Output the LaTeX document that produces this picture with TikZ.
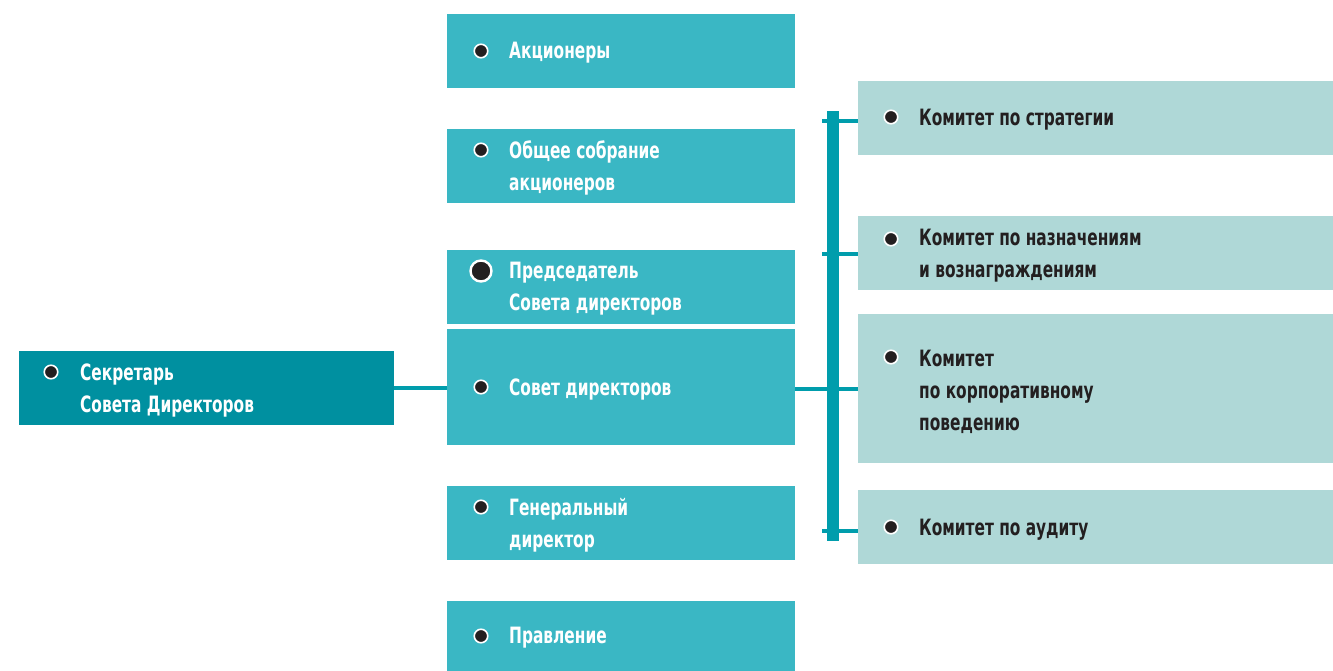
\documentclass[tikz,border=0pt]{standalone}
\usepackage{fontspec}
\newfontfamily\lab{DejaVu Sans Condensed}[FakeStretch=0.76]
\definecolor{midbox}{RGB}{58,183,196}
\definecolor{rightbox}{RGB}{175,216,215}
\definecolor{leftbox}{RGB}{0,144,160}
\definecolor{barcol}{RGB}{0,157,172}
\definecolor{ink}{RGB}{35,31,32}
\begin{document}
\begin{tikzpicture}[x=1pt,y=-1pt,
  box/.style={draw=none,inner sep=0pt,outer sep=0pt,anchor=north west},
  midb/.style={box,fill=midbox,minimum width=348pt},
  rightb/.style={box,fill=rightbox,minimum width=475pt},
  leftb/.style={box,fill=leftbox,minimum width=375pt},
  lbl/.style={anchor=west,inner sep=0pt,align=left,font=\lab\bfseries\fontsize{22.5}{32}\selectfont},
  wlbl/.style={lbl,text=white},
  dlbl/.style={lbl,text=ink},
  dot/.style={circle,fill=ink,draw=white,line width=1.6pt,minimum size=13.5pt,inner sep=0pt},
  bigdot/.style={circle,fill=ink,draw=white,line width=2.4pt,minimum size=21pt,inner sep=0pt},
  conn/.style={draw=barcol,line width=3.8pt}]
\useasboundingbox (0,0) rectangle (1333,671);
% middle column
\node[midb,minimum height=74pt] (akc) at (447,14) {};
\node[midb,minimum height=74pt] (obs) at (447,129) {};
\node[midb,minimum height=74pt] (pred) at (447,250) {};
\node[midb,minimum height=116pt] (sov) at (447,329) {};
\node[midb,minimum height=74pt] (gen) at (447,486) {};
\node[midb,minimum height=70pt] (pra) at (447,601) {};
% left
\node[leftb,minimum height=74pt] (sec) at (19,351) {};
% right column
\node[rightb,minimum height=74pt] (str) at (858,81) {};
\node[rightb,minimum height=74pt] (naz) at (858,216) {};
\node[rightb,minimum height=149pt] (kor) at (858,314) {};
\node[rightb,minimum height=74pt] (aud) at (858,490) {};
% connectors
\draw[conn] (sec.east |- 0,388) coordinate (secR) -- (sov.west |- 0,388);
\draw[conn] (sov.east |- 0,389) -- (kor.west |- 0,389);
\coordinate (bs) at (822,121);
\coordinate (bn) at (822,254);
\coordinate (ba) at (822,531);
\draw[conn] (bs) -- (str.west |- bs);
\draw[conn] (bn) -- (naz.west |- bn);
\draw[conn] (ba) -- (aud.west |- ba);
\node[box,fill=barcol,minimum width=12pt,minimum height=430pt] (bar) at (827,111) {};
% labels middle
\node[wlbl] (takc) at (509,53) {Акционеры};
\node[dot] (dakc) at (481,51) {};
\node[wlbl] (tobs) at (509,168) {Общее собрание\\акционеров};
\node[dot] (dobs) at (481,150) {};
\node[wlbl] (tpred) at (509,289) {Председатель\\Совета директоров};
\node[bigdot] (dpred) at (481,271) {};
\node[wlbl] (tsov) at (509,389) {Совет директоров};
\node[dot] (dsov) at (481,387) {};
\node[wlbl] (tgen) at (509,525) {Генеральный\\директор};
\node[dot] (dgen) at (481,507) {};
\node[wlbl] (tpra) at (509,638) {Правление};
\node[dot] (dpra) at (481,636) {};
% left label
\node[wlbl] (tsec) at (80,390) {Секретарь\\Совета Директоров};
\node[dot] (dsec) at (51,372) {};
% right labels
\node[dlbl] (tstr) at (919,120) {Комитет по стратегии};
\node[dot] (dstr) at (891,117) {};
\node[dlbl] (tnaz) at (919,256) {Комитет по назначениям\\и вознаграждениям};
\node[dot] (dnaz) at (891,239) {};
\node[dlbl] (tkor) at (919,392) {Комитет\\по корпоративному\\поведению};
\node[dot] (dkor) at (891,357) {};
\node[dlbl] (taud) at (919,530) {Комитет по аудиту};
\node[dot] (daud) at (891,527) {};
\end{tikzpicture}
\end{document}
